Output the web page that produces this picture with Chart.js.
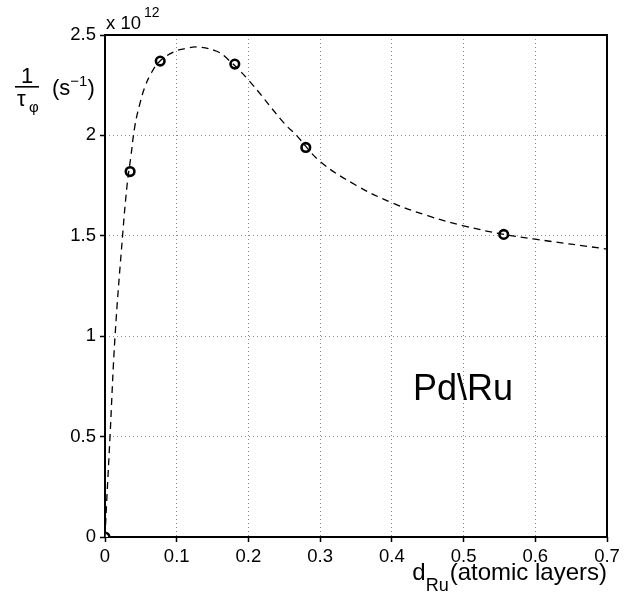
<!DOCTYPE html>
<html>
<head>
<meta charset="utf-8">
<script src="https://cdn.jsdelivr.net/npm/chart.js@4/dist/chart.umd.min.js"></script>
<style>
  html, body { margin: 0; padding: 0; background: #fff; }
  #wrap { width: 635px; height: 601px; }
</style>
</head>
<body>
<div id="wrap"><canvas id="chart" width="635" height="601"></canvas></div>
<script>
// measured points (x in atomic layers, y in units of 1e12 s^-1)
const measX = [0, 0.035, 0.077, 0.181, 0.280, 0.556];
const measY = [0, 1.82, 2.37, 2.355, 1.94, 1.507];

// dashed fit curve
const fitX = [0, 0.0024, 0.007, 0.014, 0.0245, 0.031, 0.0358, 0.0418, 0.0488, 0.0558, 0.0637, 0.0757,
  0.0953, 0.1116, 0.1288, 0.1558, 0.172, 0.2, 0.25, 0.267, 0.3, 0.35, 0.4, 0.45, 0.5, 0.556, 0.6, 0.7];
const fitY = [0, 0.18, 0.5, 1.0, 1.5, 1.76, 1.887, 2.05, 2.16, 2.243, 2.305, 2.367,
  2.415, 2.432, 2.44, 2.419, 2.377, 2.276, 2.06, 2.0, 1.87, 1.752, 1.665, 1.60, 1.55, 1.507, 1.483, 1.434];

const xTicks = [0, 0.1, 0.2, 0.3, 0.4, 0.5, 0.6, 0.7];
const yTicks = [0, 0.5, 1, 1.5, 2, 2.5];

const FONT = '"Liberation Sans", Arial, Helvetica, sans-serif';

// frame + all the extra text (axis titles with sub/superscripts, annotation)
const decorations = {
  id: "decorations",
  beforeDatasetsDraw(chart) {
    const { ctx, chartArea: a } = chart;
    ctx.save();
    ctx.strokeStyle = "#000";
    ctx.lineWidth = 2;
    ctx.strokeRect(a.left, a.top, a.right - a.left, a.bottom - a.top);
    ctx.restore();
  },
  afterDraw(chart) {
    const { ctx, chartArea: a } = chart;
    const xs = chart.scales.x, ys = chart.scales.y;
    ctx.save();
    ctx.fillStyle = "#000";
    ctx.textBaseline = "alphabetic";
    ctx.textAlign = "left";

    // exponent above the y axis
    ctx.font = "18.5px " + FONT;
    ctx.fillText("x 10", a.left + 1, 29);
    ctx.font = "14px " + FONT;
    ctx.fillText("12", a.left + 39, 17);

    // y title: 1/tau_phi (s^-1)
    ctx.font = "22px " + FONT;
    ctx.textAlign = "center";
    ctx.fillText("1", 27, 83);
    ctx.fillRect(15, 86, 24, 1.6);
    ctx.textAlign = "left";
    ctx.fillText("τ", 17, 106);
    ctx.font = "15px " + FONT;
    ctx.fillText("φ", 29, 112);
    ctx.font = "22px " + FONT;
    ctx.fillText("(s", 52, 95);
    const w1 = ctx.measureText("(s").width;
    ctx.font = "15px " + FONT;
    ctx.fillText("−1", 52 + w1, 86);
    const w2 = ctx.measureText("−1").width;
    ctx.font = "22px " + FONT;
    ctx.fillText(")", 52 + w1 + w2, 95);

    // x title: d_Ru (atomic layers)
    ctx.textAlign = "right";
    ctx.font = "24px " + FONT;
    ctx.fillText("(atomic layers)", a.right, 580);
    const wt = ctx.measureText("(atomic layers)").width;
    ctx.font = "18px " + FONT;
    ctx.fillText("Ru", a.right - wt - 1, 591);
    const wr = ctx.measureText("Ru").width;
    ctx.font = "24px " + FONT;
    ctx.fillText("d", a.right - wt - 1 - wr, 580);

    // annotation
    ctx.textAlign = "left";
    ctx.font = "36px " + FONT;
    ctx.fillText("Pd\\Ru", xs.getPixelForValue(0.4296), ys.getPixelForValue(0.682));
    ctx.restore();
  }
};

const gridOpts = {
  color: "#8a8a8a",
  lineWidth: 1,
  drawTicks: true,
  tickLength: 5,
  tickColor: "#000",
  tickWidth: 1.5,
  tickBorderDash: []
};
const borderOpts = { display: false, dash: [1, 3] };

new Chart(document.getElementById("chart"), {
  type: "line",
  data: {
    datasets: [
      {
        label: "fit",
        data: fitX.map((x, i) => ({ x, y: fitY[i] })),
        borderColor: "#000",
        borderWidth: 1.3,
        borderDash: [7, 5],
        pointRadius: 0,
        tension: 0.4,
        fill: false
      },
      {
        label: "data",
        data: measX.map((x, i) => ({ x, y: measY[i] })),
        showLine: false,
        pointStyle: "circle",
        pointRadius: 4.3,
        pointBorderWidth: 2.6,
        pointBorderColor: "#000",
        pointBackgroundColor: "#fff"
      }
    ]
  },
  options: {
    responsive: false,
    animation: false,
    layout: { padding: { top: 35, right: 28, left: 0, bottom: 0 } },
    plugins: { legend: { display: false }, tooltip: { enabled: false } },
    scales: {
      x: {
        type: "linear",
        min: 0,
        max: 0.7,
        afterBuildTicks: (s) => { s.ticks = xTicks.map(v => ({ value: v })); },
        afterFit: (s) => { s.height = 64; },
        border: borderOpts,
        grid: gridOpts,
        ticks: {
          padding: 4,
          color: "#000",
          font: { family: FONT, size: 18.5 },
          maxRotation: 0,
          callback: (v) => String(+v.toFixed(1))
        }
      },
      y: {
        type: "linear",
        min: 0,
        max: 2.5,
        afterBuildTicks: (s) => { s.ticks = yTicks.map(v => ({ value: v })); },
        afterFit: (s) => { s.width = 105; },
        border: borderOpts,
        grid: gridOpts,
        ticks: {
          padding: 4,
          color: "#000",
          font: { family: FONT, size: 18.5 },
          callback: (v) => String(+v.toFixed(1))
        }
      }
    }
  },
  plugins: [decorations]
});
</script>
</body>
</html>
